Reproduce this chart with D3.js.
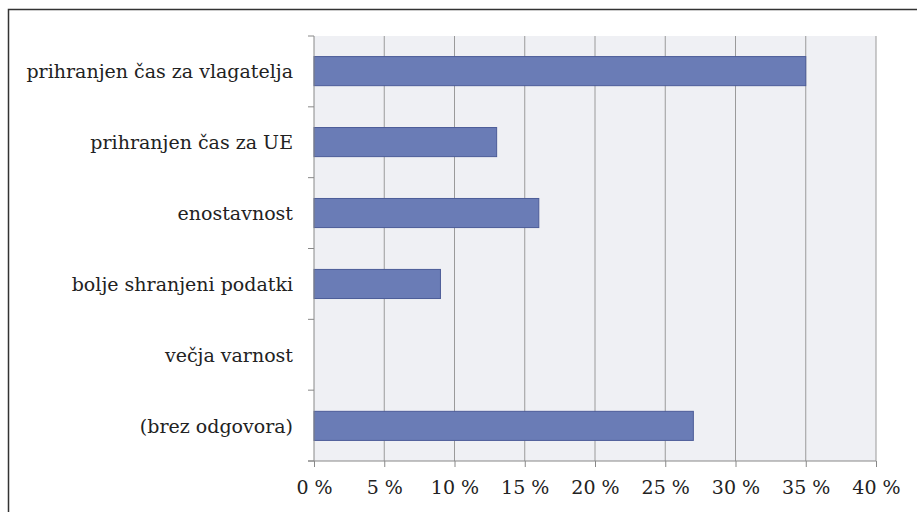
<!DOCTYPE html>
<html>
<head>
<meta charset="utf-8">
<script src="https://cdn.jsdelivr.net/npm/d3@7"></script>
<style>
  body { margin: 0; background: #fff; }
  svg { display: block; }
  .lbl { font-family: "DejaVu Serif", "Liberation Serif", serif; fill: #222; }
</style>
</head>
<body>
<div id="canvas"></div>
<script>
const categories = ["prihranjen čas za vlagatelja", "prihranjen čas za UE", "enostavnost",
  "bolje shranjeni podatki", "večja varnost", "(brez odgovora)"];
const values = [35, 13, 16, 9, 0, 27];
const xTicks = [0, 5, 10, 15, 20, 25, 30, 35, 40];

const W = 917, H = 512;
const margin = {top: 36, right: 41, bottom: 51, left: 314};
const width = W - margin.left - margin.right;
const height = H - margin.top - margin.bottom;

const root = d3.select("#canvas").append("svg")
  .attr("width", W).attr("height", H);

// outer frame
root.append("rect")
  .attr("x", 8.5).attr("y", 9.5).attr("width", W).attr("height", H)
  .attr("fill", "none").attr("stroke", "#333").attr("stroke-width", 1.5);

const svg = root.append("g")
  .attr("transform", "translate(" + margin.left + "," + margin.top + ")");

const x = d3.scaleLinear().domain([0, 40]).range([0, width]);
const y = d3.scaleBand().domain(categories).range([0, height]).paddingInner(0.59).paddingOuter(0.29);

// plot background
svg.append("rect")
  .attr("width", width).attr("height", height)
  .attr("fill", "#eff0f4");

// vertical gridlines
svg.append("g")
  .selectAll("line")
  .data(xTicks.slice(1))
  .enter()
  .append("line")
    .attr("x1", function (d) { return x(d); })
    .attr("x2", function (d) { return x(d); })
    .attr("y1", 0).attr("y2", height)
    .attr("stroke", "#9a9a9a").attr("stroke-width", 1);

// bars
svg.append("g")
  .selectAll("rect")
  .data(values)
  .enter()
  .append("rect")
    .attr("x", x(0))
    .attr("y", function (d, i) { return y(categories[i]); })
    .attr("width", function (d) { return x(d) - x(0); })
    .attr("height", y.bandwidth())
    .attr("fill", "#6a7cb6")
    .attr("stroke", function (d) { return d > 0 ? "#4c5c98" : "none"; })
    .attr("stroke-width", 1);

// y axis: line + category separator ticks
const step = height / categories.length;
svg.append("line")
  .attr("x1", 0).attr("x2", 0).attr("y1", 0).attr("y2", height)
  .attr("stroke", "#888").attr("stroke-width", 1);
svg.append("g")
  .selectAll("line")
  .data(d3.range(categories.length + 1))
  .enter()
  .append("line")
    .attr("x1", -6).attr("x2", 0)
    .attr("y1", function (d) { return d * step; })
    .attr("y2", function (d) { return d * step; })
    .attr("stroke", "#888");

svg.append("g")
  .selectAll("text")
  .data(categories)
  .enter()
  .append("text")
    .attr("class", "lbl")
    .attr("x", -21)
    .attr("y", function (d) { return y(d) + y.bandwidth() / 2; })
    .attr("dy", "0.35em")
    .attr("text-anchor", "end")
    .style("font-size", "19px")
    .text(function (d) { return d; });

// x axis
const xAxis = svg.append("g")
  .attr("transform", "translate(0," + height + ")")
  .call(d3.axisBottom(x).tickValues(xTicks).tickSize(6).tickPadding(14)
    .tickFormat(function (d) { return d + " %"; }));
xAxis.select(".domain").remove();
xAxis.append("line").attr("x1", -6).attr("x2", width).attr("stroke", "#888");
xAxis.selectAll(".tick line").attr("stroke", "#888");
xAxis.selectAll(".tick text")
  .attr("class", "lbl")
  .style("font-size", "19px");
</script>
</body>
</html>
